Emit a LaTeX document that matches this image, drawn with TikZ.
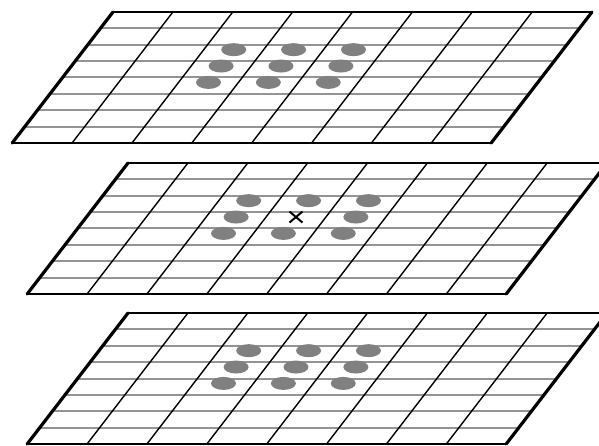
\documentclass[tikz,border=0pt]{standalone}
\usetikzlibrary{calc}
\tikzset{
  hline/.style={draw=black!42, line width=2pt},
  vline/.style={draw=black, line width=1.4pt},
  tbedge/.style={draw=black, line width=2pt},
  sideedge/.style={draw=black, line width=3.2pt, line cap=round},
  spot/.style={fill=black!50},
  crossmark/.style={draw=black, line width=2pt}
}
\newcommand{\gridlayer}[3]{%
  \begin{scope}[shift={(#1pt,-#2pt)}, x={(59.875pt,0pt)}, y={(-12.6pt,-16.375pt)}]
    \foreach \i in {1,...,7} {\draw[hline] (0,\i) -- (8,\i);}
    \foreach \i in {1,...,7} {\draw[vline] (\i,0) -- (\i,8);}
    \draw[tbedge] (0,0) -- (8,0);
    \draw[tbedge] (0,8) -- (8,8);
    \draw[sideedge] (0,0) -- (0,8);
    \draw[sideedge] (8,0) -- (8,8);
    \foreach \c in {2,3,4} {
      \foreach \r in {2,3,4} {
        \pgfmathtruncatemacro{\iscenter}{(\c==3)&&(\r==3)&&(#3==1)}
        \ifnum\iscenter=1
          \draw[crossmark] ($(\c+0.5,\r+0.3)+(-6.5pt,-5.5pt)$) -- ($(\c+0.5,\r+0.3)+(6.5pt,5.5pt)$);
          \draw[crossmark] ($(\c+0.5,\r+0.3)+(-6.5pt,5.5pt)$) -- ($(\c+0.5,\r+0.3)+(6.5pt,-5.5pt)$);
        \else
          \fill[spot] (\c+0.5,\r+0.3) ellipse [x radius=12.5pt, y radius=6.5pt];
        \fi
      }
    }
  \end{scope}%
}
\begin{document}
\begin{tikzpicture}[x=1pt,y=1pt]
  \useasboundingbox (0,0) rectangle (599,-446);
  \clip (0,0) rectangle (599,-446);
  \fill[white] (0,0) rectangle (599,-446);
  \gridlayer{113}{12}{0}
  \gridlayer{128}{163}{1}
  \gridlayer{128}{313}{0}
\end{tikzpicture}
\end{document}
